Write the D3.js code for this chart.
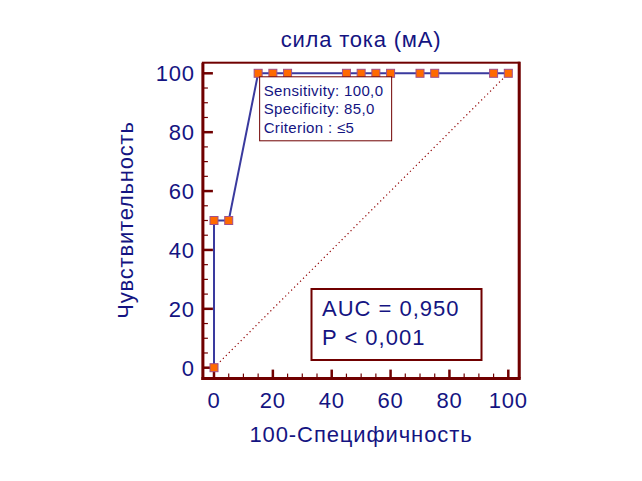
<!DOCTYPE html>
<html>
<head>
<meta charset="utf-8">
<script src="https://cdn.jsdelivr.net/npm/d3@7"></script>
<style>
  body { margin: 0; background: #fff; }
  text { font-family: "Liberation Sans", Arial, sans-serif; fill: #141482; }
</style>
</head>
<body>
<div id="roc"></div>
<script>
// ROC curve: сила тока (мА)

const fpr = [0, 0, 5, 15, 20, 25, 45, 50, 55, 60, 70, 75, 95, 100];          // 100-Specificity
const sens = [0, 50, 50, 100, 100, 100, 100, 100, 100, 100, 100, 100, 100, 100]; // Sensitivity
const tickValues = [0, 20, 40, 60, 80, 100];
const minorTicks = d3.range(0, 101, 5);
const criterionLines = ['Sensitivity: 100,0', 'Specificity: 85,0', 'Criterion : \u22645'];
const criterionPoint = [15, 100];
const statLines = ['AUC = 0,950', 'P < 0,001'];

const W = 642, H = 481;
const frameColor = '#700000';

const svg = d3.select('#roc').append('svg')
    .attr('width', W)
    .attr('height', H);

// Scales
const x = d3.scaleLinear().domain([0, 100]).range([214, 508.3]);
const y = d3.scaleLinear().domain([0, 100]).range([367.7, 73.3]);

const pad = 3.6;
const fLeft = x(-pad) - 0.5, fRight = x(100 + pad) + 0.3;
const fTop = y(100 + pad), fBottom = y(-pad) + 0.3;

// Title
svg.append('text')
    .attr('x', 361)
    .attr('y', 47)
    .attr('text-anchor', 'middle')
    .style('font-size', '22px')
    .style('letter-spacing', '0.8px')
    .text('сила тока (мА)');

// Diagonal reference line
svg.append('line')
    .attr('x1', x(0)).attr('y1', y(0))
    .attr('x2', x(100)).attr('y2', y(100))
    .attr('stroke', '#900000')
    .attr('stroke-width', 1.2)
    .attr('stroke-dasharray', '1.2,3');

// Frame
svg.append('rect')
    .attr('x', fLeft).attr('y', fTop)
    .attr('width', fRight - fLeft).attr('height', fBottom - fTop)
    .attr('fill', 'none')
    .attr('stroke', frameColor)
    .attr('stroke-width', 2);

// Thick left, bottom & right lines
svg.append('line')
    .attr('x1', fLeft).attr('x2', fLeft)
    .attr('y1', fTop).attr('y2', fBottom + 1.5)
    .attr('stroke', frameColor).attr('stroke-width', 3);
svg.append('line')
    .attr('x1', fLeft - 1.5).attr('x2', fRight + 1.5)
    .attr('y1', fBottom).attr('y2', fBottom)
    .attr('stroke', frameColor).attr('stroke-width', 3);
svg.append('line')
    .attr('x1', fRight).attr('x2', fRight)
    .attr('y1', fTop - 1).attr('y2', fBottom)
    .attr('stroke', frameColor).attr('stroke-width', 3);

// Ticks (inward)
const yAxisG = svg.append('g')
    .attr('transform', `translate(${fLeft},0)`);
yAxisG.selectAll('.tk')
    .data(minorTicks)
    .join('line')
    .attr('x1', 0)
    .attr('x2', d => d % 20 === 0 ? 10 : 5)
    .attr('y1', d => y(d)).attr('y2', d => y(d))
    .attr('stroke', frameColor)
    .attr('stroke-width', d => d % 20 === 0 ? 2.5 : 1.2);
yAxisG.selectAll('.lbl')
    .data(tickValues)
    .join('text')
    .attr('x', -8)
    .attr('y', d => y(d))
    .attr('dy', '0.36em')
    .attr('text-anchor', 'end')
    .style('font-size', '22px')
    .style('letter-spacing', '0.8px')
    .text(d => d);

const xAxisG = svg.append('g')
    .attr('transform', `translate(0,${fBottom})`);
xAxisG.selectAll('.tk')
    .data(minorTicks)
    .join('line')
    .attr('x1', d => x(d)).attr('x2', d => x(d))
    .attr('y1', 0)
    .attr('y2', d => d % 20 === 0 ? -9 : -5)
    .attr('stroke', frameColor)
    .attr('stroke-width', d => d % 20 === 0 ? 2.5 : 1.2);
xAxisG.selectAll('.lbl')
    .data(tickValues)
    .join('text')
    .attr('x', d => x(d))
    .attr('y', 29)
    .attr('text-anchor', 'middle')
    .style('font-size', '22px')
    .style('letter-spacing', '0.8px')
    .text(d => d);

// Axis titles
svg.append('text')
    .attr('x', 361)
    .attr('y', 442)
    .attr('text-anchor', 'middle')
    .style('font-size', '22px')
    .style('letter-spacing', '0.9px')
    .text('100-Специфичность');

svg.append('text')
    .attr('transform', 'rotate(-90)')
    .attr('x', -220)
    .attr('y', 133)
    .attr('text-anchor', 'middle')
    .style('font-size', '22px')
    .style('letter-spacing', '0.8px')
    .text('Чувствительность');

// ROC curve
const pts = fpr.map((d, i) => [d, sens[i]]);
svg.append('path')
    .datum(pts)
    .attr('d', d3.line().x(d => x(d[0])).y(d => y(d[1])))
    .attr('fill', 'none')
    .attr('stroke', '#3a3a9e')
    .attr('stroke-width', 2);

svg.selectAll('.pt')
    .data(pts)
    .join('rect')
    .attr('x', d => x(d[0]) - 4)
    .attr('y', d => y(d[1]) - 4)
    .attr('width', 8)
    .attr('height', 8)
    .attr('fill', '#ff6a00')
    .attr('stroke', '#a0508a')
    .attr('stroke-width', 1);

// Criterion box
const cbx = x(criterionPoint[0]) + 1.5, cby = y(criterionPoint[1]) + 3.5;
svg.append('rect')
    .attr('x', cbx).attr('y', cby)
    .attr('width', 132).attr('height', 64)
    .attr('fill', '#fff')
    .attr('stroke', frameColor)
    .attr('stroke-width', 1);
svg.selectAll('.crit')
    .data(criterionLines)
    .join('text')
    .attr('x', cbx + 4)
    .attr('y', (d, i) => cby + 19 + i * 18.6)
    .style('font-size', '15px')
    .style('letter-spacing', '0.35px')
    .text(d => d);

// AUC box
svg.append('rect')
    .attr('x', 311.5).attr('y', 289)
    .attr('width', 170).attr('height', 71)
    .attr('fill', '#fff')
    .attr('stroke', frameColor)
    .attr('stroke-width', 2);
svg.selectAll('.stat')
    .data(statLines)
    .join('text')
    .attr('x', 322)
    .attr('y', (d, i) => 316 + i * 29)
    .style('font-size', '22px')
    .style('letter-spacing', '1px')
    .text(d => d);
</script>
</body>
</html>
